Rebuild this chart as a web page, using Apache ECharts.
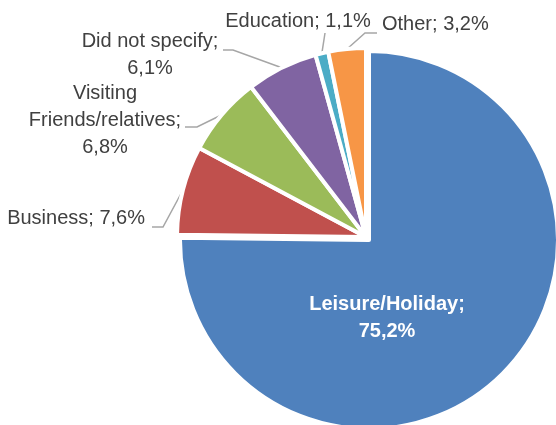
<!DOCTYPE html>
<html>
<head>
<meta charset="utf-8">
<script src="https://cdn.jsdelivr.net/npm/echarts@6/dist/echarts.min.js"></script>
<style>
  html, body { margin: 0; padding: 0; background: #fff; }
  #main { width: 556px; height: 425px; }
</style>
</head>
<body>
<div id="main"></div>
<script>
// purpose of visit, share in %
var categories = ['Leisure/Holiday', 'Business', 'Visiting Friends/relatives', 'Did not specify', 'Education', 'Other'];
var values = [75.2, 7.6, 6.8, 6.1, 1.1, 3.2];
var colors = ['#4F81BD', '#C0504D', '#9BBB59', '#8064A2', '#4BACC6', '#F79646'];
// how the label text is broken into lines
var labelHead = ['Leisure/Holiday;', 'Business;', 'Visiting\nFriends/relatives;', 'Did not specify;', 'Education;', 'Other;'];
var valueOnNewLine = [true, false, true, true, false, false];

// label placement (text anchor) and leader line end/elbow, like the excel chart
var labelSpots = [
    {x: 387, y: 318, align: 'center'},
    {x: 145, y: 218, align: 'right', line: [[163, 227], [152, 227]]},
    {x: 105, y: 120, align: 'center', line: [[197, 127], [185, 127]]},
    {x: 150, y: 55, align: 'center', line: [[233, 50], [223, 50]]},
    {x: 298, y: 21, align: 'center', line: [[325, 33]]},
    {x: 382, y: 24, align: 'left', line: [[365, 33], [377, 33]]}
];

var FONT = "'Liberation Sans Narrow', 'Arial Narrow', 'Liberation Sans', sans-serif";

var myChart = echarts.init(document.getElementById('main'));

// the big slice is pulled out a little, so it gets its own series
function buildData(exploded) {
    var res = [];
    for (var i = 0; i < categories.length; i++) {
        var mine = exploded ? i === 0 : i !== 0;
        var item = {name: categories[i], value: values[i]};
        if (mine) {
            item.itemStyle = {color: colors[i]};
            if (i === 0) {
                item.label = {color: '#fff', fontWeight: 'bold'};
                item.labelLine = {show: false};
            }
        } else {
            item.itemStyle = {color: 'transparent', borderWidth: 0};
            item.label = {show: false};
            item.labelLine = {show: false};
        }
        res.push(item);
    }
    return res;
}

function pieSeries(center, exploded) {
    return {
        type: 'pie',
        center: center,
        radius: 189,
        startAngle: 90,
        clockwise: true,
        silent: true,
        itemStyle: {
            borderColor: '#fff',
            borderWidth: 4
        },
        label: {
            show: true,
            position: 'outside',
            overflow: 'none',
            color: '#404040',
            fontFamily: FONT,
            fontSize: 20,
            lineHeight: 27,
            formatter: function (p) {
                var v = p.value.toFixed(1).replace('.', ',') + '%';
                return labelHead[p.dataIndex] + (valueOnNewLine[p.dataIndex] ? '\n' : ' ') + v;
            }
        },
        labelLine: {
            show: true,
            lineStyle: {color: '#A6A6A6', width: 1.5}
        },
        labelLayout: function (params) {
            var s = labelSpots[params.dataIndex];
            var res = {x: s.x, y: s.y, align: s.align, verticalAlign: 'middle'};
            if (s.line && params.labelLinePoints) {
                res.labelLinePoints = [params.labelLinePoints[0]].concat(s.line);
            }
            return res;
        },
        data: buildData(exploded)
    };
}

var option = {
    backgroundColor: '#fff',
    animation: false,
    series: [
        pieSeries([366, 237], false),
        pieSeries([369, 240], true)
    ]
};
myChart.setOption(option);
</script>
</body>
</html>
